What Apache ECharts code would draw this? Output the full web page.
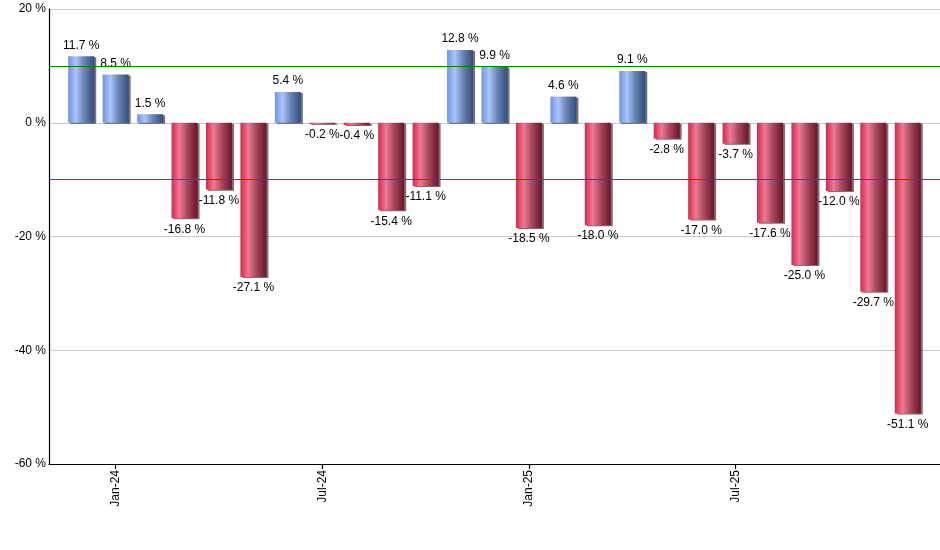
<!DOCTYPE html>
<html>
<head>
<meta charset="utf-8">
<script src="https://cdn.jsdelivr.net/npm/echarts@6/dist/echarts.min.js"></script>
<style>html,body{margin:0;padding:0;background:#fff;}#c{width:940px;height:550px;}</style>
</head>
<body>
<div id="c"></div>
<script>
var months = ['Dec-23','Jan-24','Feb-24','Mar-24','Apr-24','May-24','Jun-24','Jul-24','Aug-24','Sep-24','Oct-24','Nov-24','Dec-24','Jan-25','Feb-25','Mar-25','Apr-25','May-25','Jun-25','Jul-25','Aug-25','Sep-25','Oct-25','Nov-25','Dec-25'];
var values = [11.7, 8.5, 1.5, -16.8, -11.8, -27.1, 5.4, -0.2, -0.4, -15.4, -11.1, 12.8, 9.9, -18.5, 4.6, -18.0, 9.1, -2.8, -17.0, -3.7, -17.6, -25.0, -12.0, -29.7, -51.1];
var refLines = [10, -10];
var yTicks = {min: -60, max: 20, interval: 20};

function grad(stops) {
  return new echarts.graphic.LinearGradient(0, 0, 1, 0, stops);
}
var blue = [{offset:0,color:'#6d93e6'},{offset:0.3,color:'#aac6f9'},{offset:0.6,color:'#6a86b8'},{offset:1,color:'#344c78'}];
var red = [{offset:0,color:'#e0224a'},{offset:0.3,color:'#ea7b92'},{offset:0.6,color:'#a84a5e'},{offset:1,color:'#6a1426'}];

var barData = values.map(function(v){
  return {
    value: v,
    itemStyle: {color: grad(v >= 0 ? blue : red)},
    label: {position: v >= 0 ? 'top' : 'bottom'}
  };
});

function showIdx(i, name) { return /^(Jan|Jul)/.test(name); }

var chart = echarts.init(document.getElementById('c'), null, {renderer:'canvas'});
chart.setOption({
  animation: false,
  backgroundColor: '#fff',
  grid: [
    {left: 49, right: 0, top: 9, bottom: 86, containLabel: false},
    {left: 64, right: 15, top: 9, bottom: 86, containLabel: false}
  ],
  xAxis: [
    {type:'value', gridIndex:0, min:0, max:1, axisLine:{show:true, onZero:false, lineStyle:{color:'#000', width:1.2}}, axisTick:{show:false}, axisLabel:{show:false}, splitLine:{show:false}},
    {type:'category', gridIndex:1, data: months, axisLine:{show:false, onZero:false},
     axisTick:{show:true, interval: showIdx, alignWithLabel:true, length:5, lineStyle:{color:'#000', width:1.2}},
     axisLabel:{interval: showIdx, rotate:90, margin:6, color:'#000', fontFamily:'Liberation Sans', fontSize:12},
     splitLine:{show:false}}
  ],
  yAxis: [
    {type:'value', gridIndex:0, min:yTicks.min, max:yTicks.max, interval:yTicks.interval,
     axisLine:{show:true, onZero:false, lineStyle:{color:'#000', width:1.2}}, axisTick:{show:false},
     axisLabel:{formatter:'{value} %', color:'#000', fontFamily:'Liberation Sans', fontSize:12, margin:3},
     splitLine:{show:true, lineStyle:{color:'#c8c8c8', width:1}}},
    {type:'value', gridIndex:1, min:yTicks.min, max:yTicks.max, interval:yTicks.interval, show:false, splitLine:{show:false}}
  ],
  series: [
    {type:'line', xAxisIndex:0, yAxisIndex:0, data:[], z:1, silent:true,
     markLine:{symbol:'none', silent:true, label:{show:false},
       lineStyle:{color:'#008000', type:'solid', width:1.2},
       data: refLines.map(function(v){ return {yAxis: v}; })}},
    {type:'bar', xAxisIndex:1, yAxisIndex:1, data: barData, barWidth:26, z:3,
     itemStyle:{shadowColor:'rgba(0,0,0,0.55)', shadowOffsetX:2, shadowOffsetY:1, shadowBlur:0},
     label:{show:true, formatter: function(p){ return p.value.toFixed(1) + ' %'; }, color:'#000', fontFamily:'Liberation Sans', fontSize:12, distance:5}}
  ]
});
</script>
</body>
</html>
